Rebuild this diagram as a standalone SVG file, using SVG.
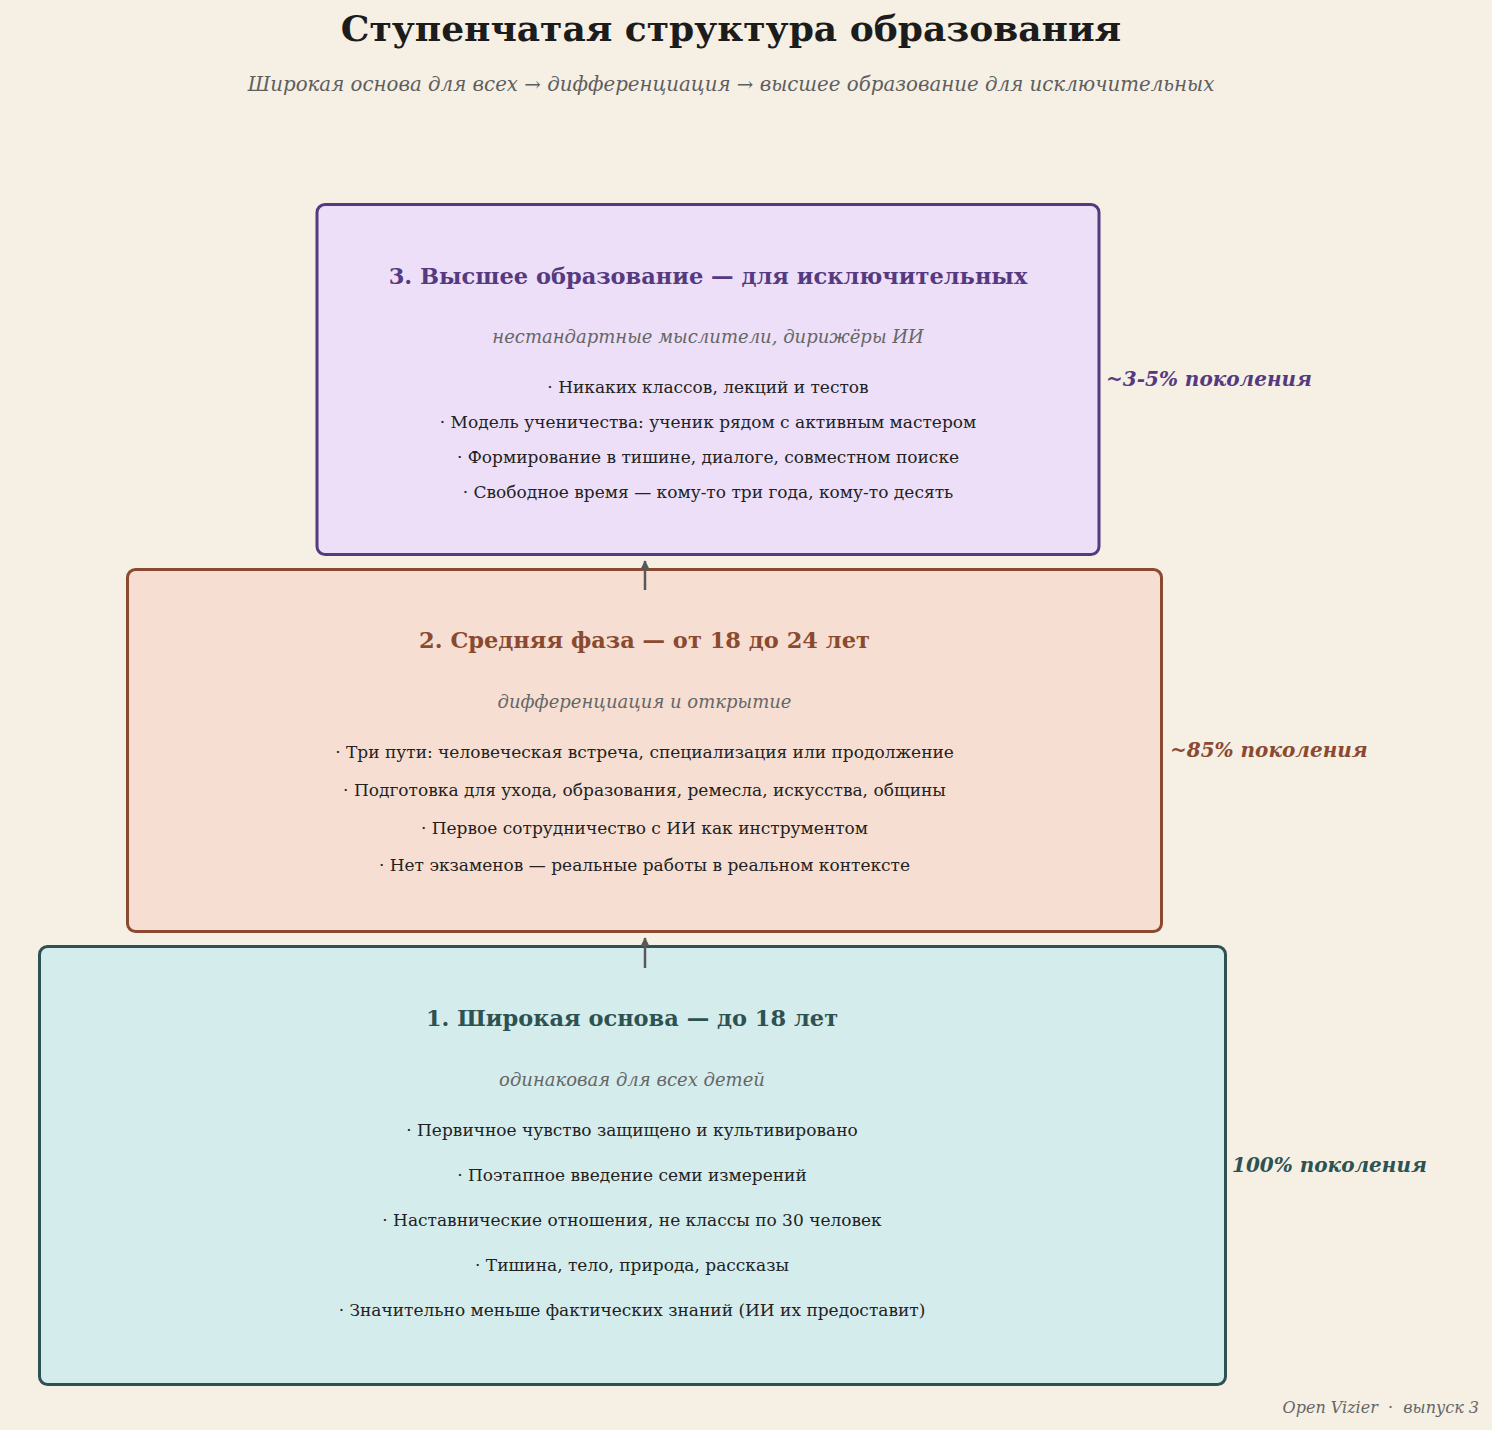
<svg xmlns="http://www.w3.org/2000/svg" width="1492" height="1430" viewBox="0 0 1492 1430">
<defs>
<style>
text{font-family:"DejaVu Serif","Liberation Serif",serif;text-anchor:middle}
.ttl{font-size:36px;font-weight:bold;fill:#1c1c1c}
.sub{font-size:19.8px;font-style:italic;fill:#5e5e5e}
.h{font-size:22.5px;font-weight:bold}
.it{font-size:18px;font-style:italic;fill:#666}
.b{font-size:17px;fill:#222}
.pct{font-size:20px;font-weight:bold;font-style:italic;text-anchor:start}
.foot{font-size:16px;font-style:italic;fill:#666;text-anchor:end;white-space:pre}
.box{stroke-width:3}
.conn{stroke:#585858;stroke-width:2.5;fill:none}
</style>
<marker id="ah" viewBox="0 0 10 10" refX="9" refY="5" markerWidth="3.5" markerHeight="3.5" orient="auto"><path d="M0,0 L10,5 L0,10 z" fill="#585858"/></marker>
</defs>
<rect width="1492" height="1430" fill="#f5efe4"/>
<text class="ttl" x="731" y="41">Ступенчатая структура образования</text>
<text class="sub" x="731" y="91">Широкая основа для всех → дифференциация → высшее образование для исключительных</text>

<g id="node3">
<rect class="box" x="317" y="204.5" width="782" height="350" rx="8" fill="#ecdff7" stroke="#553a80"/>
<text class="h" x="708" y="284" fill="#553a80">3. Высшее образование — для исключительных</text>
<text class="it" x="708" y="343">нестандартные мыслители, дирижёры ИИ</text>
<text class="b" x="708" y="393">· Никаких классов, лекций и тестов</text>
<text class="b" x="708" y="428">· Модель ученичества: ученик рядом с активным мастером</text>
<text class="b" x="708" y="463">· Формирование в тишине, диалоге, совместном поиске</text>
<text class="b" x="708" y="498">· Свободное время — кому-то три года, кому-то десять</text>
<text class="pct" x="1106" y="386" fill="#553a80">~3-5% поколения</text>
</g>

<g id="node2">
<rect class="box" x="127.5" y="569.5" width="1034" height="362" rx="8" fill="#f6dfd2" stroke="#8b4a30"/>
<text class="h" x="644.5" y="648" fill="#8b4a30">2. Средняя фаза — от 18 до 24 лет</text>
<text class="it" x="644.5" y="708">дифференциация и открытие</text>
<text class="b" x="644.5" y="758">· Три пути: человеческая встреча, специализация или продолжение</text>
<text class="b" x="644.5" y="796">· Подготовка для ухода, образования, ремесла, искусства, общины</text>
<text class="b" x="644.5" y="834">· Первое сотрудничество с ИИ как инструментом</text>
<text class="b" x="644.5" y="871">· Нет экзаменов — реальные работы в реальном контексте</text>
<text class="pct" x="1170" y="757" fill="#8b4a30">~85% поколения</text>
</g>

<g id="node1">
<rect class="box" x="39.5" y="946.5" width="1186" height="438" rx="8" fill="#d5ecec" stroke="#2d5252"/>
<text class="h" x="632" y="1026" fill="#2d5252">1. Широкая основа — до 18 лет</text>
<text class="it" x="632" y="1086">одинаковая для всех детей</text>
<text class="b" x="632" y="1136">· Первичное чувство защищено и культивировано</text>
<text class="b" x="632" y="1181">· Поэтапное введение семи измерений</text>
<text class="b" x="632" y="1226">· Наставнические отношения, не классы по 30 человек</text>
<text class="b" x="632" y="1271">· Тишина, тело, природа, рассказы</text>
<text class="b" x="632" y="1316">· Значительно меньше фактических знаний (ИИ их предоставит)</text>
<text class="pct" x="1232" y="1172" fill="#2d5252">100% поколения</text>
</g>

<g id="connectors">
<line class="conn" x1="645" y1="590" x2="645" y2="561" marker-end="url(#ah)"/>
<line class="conn" x1="645" y1="968" x2="645" y2="938" marker-end="url(#ah)"/>
</g>

<text class="foot" x="1479" y="1413" xml:space="preserve">Open Vizier  ·  выпуск 3</text>
</svg>
